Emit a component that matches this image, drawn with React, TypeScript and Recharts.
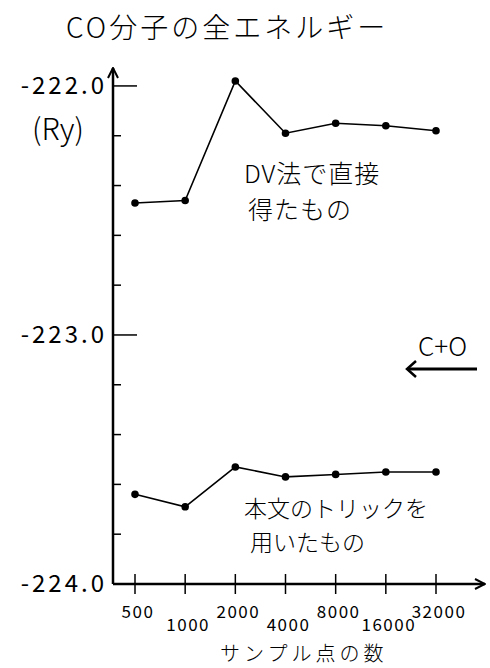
import React from "react";
import { LineChart, Line, XAxis, YAxis } from "recharts";

const samplePoints = ["500", "1000", "2000", "4000", "8000", "16000", "32000"];
const dvDirect = [-222.47, -222.46, -221.98, -222.19, -222.15, -222.16, -222.18];
const withTrick = [-223.64, -223.69, -223.53, -223.57, -223.56, -223.55, -223.55];
const yTicks = [-224.0, -223.8, -223.6, -223.4, -223.2, -223.0, -222.8, -222.6, -222.4, -222.2, -222.0];
const yLabels = ["-222.0", "-223.0", "-224.0"];

const data = samplePoints.map((n, i) => ({ n, dv: dvDirect[i], trick: withTrick[i] }));

const font = "'Noto Sans CJK JP', 'DejaVu Sans', sans-serif";

function YTick(props: any) {
  const { x, y, payload } = props;
  const v: number = payload.value;
  const label = yLabels.find((l) => Math.abs(parseFloat(l) - v) < 1e-6);
  const isBottom = Math.abs(v + 224) < 1e-6;
  return (
    <g>
      {!isBottom && (
        <line x1={x} y1={y} x2={x + (label ? 24 : 8)} y2={y} stroke="#000" strokeWidth={1.5} />
      )}
      {label && (
        <text x={x - 6} y={y + 8} textAnchor="end" fontSize={24} letterSpacing={3} fontFamily={font} fill="#000">
          {label}
        </text>
      )}
    </g>
  );
}

function XTick(props: any) {
  const { x, y, payload, index } = props;
  const lower = index % 2 === 1;
  return (
    <g>
      <line x1={x} y1={y - 10} x2={x} y2={y + 10} stroke="#000" strokeWidth={1.5} />
      <text x={x + 3} y={y + (lower ? 47 : 34)} textAnchor="middle" fontSize={17} letterSpacing={1.5} fontFamily={font} fill="#000">
        {payload.value}
      </text>
    </g>
  );
}

const textStyle: React.CSSProperties = {
  position: "absolute",
  fontFamily: font,
  fontWeight: 300,
  color: "#000",
  whiteSpace: "nowrap",
  lineHeight: 1,
};

export default function App() {
  return (
    <div style={{ position: "absolute", left: 0, top: 0, width: 490, height: 668, background: "#fff", overflow: "hidden" }}>
      <LineChart width={490} height={668} data={data} margin={{ top: 68, right: 5, bottom: 34, left: 0 }}>
        <defs>
          <marker id="arrowHead" viewBox="0 0 12 12" refX="11" refY="6" markerWidth="12" markerHeight="12" markerUnits="userSpaceOnUse" orient="auto-start-reverse">
            <path d="M1,1 L11,6 L1,11" fill="none" stroke="#000" strokeWidth={2} />
          </marker>
        </defs>
        <XAxis
          dataKey="n"
          scale="point"
          padding={{ left: 22, right: 49 }}
          height={50}
          tickSize={0}
          tickMargin={0}
          tickLine={false}
          axisLine={{ stroke: "#000", strokeWidth: 2.5, markerEnd: "url(#arrowHead)" }}
          tick={<XTick />}
          interval={0}
        />
        <YAxis
          type="number"
          domain={[-224, -221.928]}
          ticks={yTicks}
          width={113}
          tickSize={0}
          tickMargin={0}
          tickLine={false}
          axisLine={{ stroke: "#000", strokeWidth: 2.5, markerStart: "url(#arrowHead)" }}
          tick={<YTick />}
          interval={0}
          allowDataOverflow
        />
        <Line
          dataKey="dv"
          stroke="#000"
          strokeWidth={1.6}
          dot={{ r: 3, fill: "#000", stroke: "#000" }}
          isAnimationActive={false}
        />
        <Line
          dataKey="trick"
          stroke="#000"
          strokeWidth={1.6}
          dot={{ r: 3, fill: "#000", stroke: "#000" }}
          isAnimationActive={false}
        />
      </LineChart>

      <div style={{ ...textStyle, left: 66, top: 12, fontSize: 28, letterSpacing: 3 }}>CO分子の全エネルギー</div>
      <div style={{ ...textStyle, left: 32, top: 112, fontSize: 30 }}>(Ry)</div>
      <div style={{ ...textStyle, left: 244, top: 160, fontSize: 25, letterSpacing: 1 }}>DV法で直接</div>
      <div style={{ ...textStyle, left: 248, top: 196, fontSize: 25, letterSpacing: 1 }}>得たもの</div>
      <div style={{ ...textStyle, left: 244, top: 496, fontSize: 23, letterSpacing: 0 }}>本文のトリックを</div>
      <div style={{ ...textStyle, left: 250, top: 530, fontSize: 23, letterSpacing: 0 }}>用いたもの</div>
      <div style={{ ...textStyle, left: 418, top: 332, fontSize: 26 }}>C+O</div>
      <div style={{ ...textStyle, left: 220, top: 643, fontSize: 20, letterSpacing: 4 }}>サンプル点の数</div>
      <svg style={{ position: "absolute", left: 400, top: 358 }} width={82} height={22}>
        <line x1={8} y1={11} x2={77} y2={11} stroke="#000" strokeWidth={3} />
        <path d="M16,3 L7,11 L16,19" fill="none" stroke="#000" strokeWidth={2.5} />
      </svg>
    </div>
  );
}
